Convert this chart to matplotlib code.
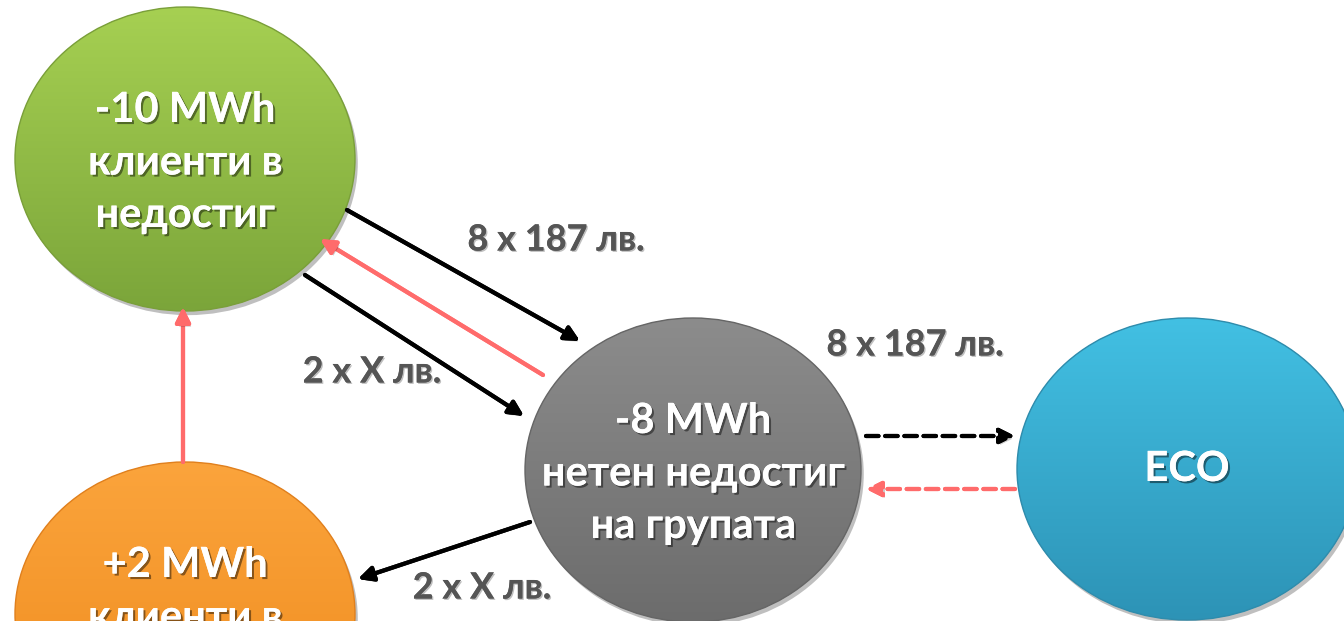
import matplotlib
matplotlib.use("Agg")
import matplotlib.pyplot as plt
import matplotlib.patheffects as pe
from matplotlib.patches import Ellipse
import numpy as np

plt.rcParams['font.family'] = ['Lato', 'DejaVu Sans']

# node texts (the orange node is cut off at the bottom edge, as in the original)
node_labels = ["-10 MWh\nклиенти в\nнедостиг",
               "+2 MWh\nклиенти в",
               "-8 MWh\nнетен недостиг\nна групата",
               "ECO"]
# edge price labels
edge_labels = ["8 x 187 лв.", "2 x X лв.", "8 x 187 лв.", "2 x X лв."]

# layout (pixels, y down)
centers = [(185, 159), (185, 614), (693, 470), (1187, 469)]
radii = [(170, 152), (170, 152), (168, 152), (170, 151)]
grad = [("#a6d052", "#7ba53a"), ("#fba43c", "#ee8a1c"),
        ("#8c8c8c", "#6c6c6c"), ("#42c0e3", "#2d93b6")]
edges_c = ["#7a9f3a", "#e0801e", "#666666", "#2f8cac"]

fig = plt.figure(figsize=(13.44, 6.21), dpi=100)
ax = fig.add_axes([0, 0, 1, 1])

shadow = [pe.withSimplePatchShadow(offset=(2, -3), shadow_rgbFace='black', alpha=0.25)]

for (cx, cy), (rx, ry), (c1, c2), ec in zip(centers, radii, grad, edges_c):
    base = Ellipse((cx, cy), 2 * rx, 2 * ry, facecolor=c2, edgecolor='none',
                   path_effects=shadow, zorder=1)
    ax.add_patch(base)
    t = np.linspace(0, 1, 256).reshape(-1, 1)
    a = np.array(matplotlib.colors.to_rgb(c1))
    b = np.array(matplotlib.colors.to_rgb(c2))
    img = a + (b - a) * t[..., None] * np.ones((1, 2, 1))
    im = ax.imshow(img, extent=(cx - rx, cx + rx, cy + ry, cy - ry),
                   aspect='auto', zorder=2, interpolation='bilinear')
    clip = Ellipse((cx, cy), 2 * rx, 2 * ry, transform=ax.transData)
    im.set_clip_path(clip)
    ax.add_patch(Ellipse((cx, cy), 2 * rx, 2 * ry, facecolor='none',
                         edgecolor=ec, lw=1.0, zorder=3))

ax.set_xlim(0, 1344)
ax.set_ylim(621, 0)
ax.axis('off')

txt_fx = [pe.withSimplePatchShadow(offset=(1.5, -1.5), shadow_rgbFace='black', alpha=0.45),
          pe.Normal()]
for (cx, cy), lab in zip(centers, node_labels):
    lines = lab.split("\n")
    for i, line in enumerate(lines):
        yy = cy - 49 + i * 52.5 if len(lines) > 1 else cy
        ax.text(cx, yy, line, ha='center', va='center', color='white',
                fontsize=30, fontweight='bold', zorder=5, path_effects=txt_fx)

# arrows: (start, end, color, dashed)
arrows = [((347, 210), (580, 341), 'black', False),
          ((543, 375), (320, 239), '#ff6b6b', False),
          ((305, 275), (524, 416), 'black', False),
          ((530, 522), (358, 579), 'black', False),
          ((183, 462), (183, 307), '#ff6b6b', False),
          ((866, 436), (1015, 436), 'black', True),
          ((1015, 489), (866, 489), '#ff6b6b', True)]
ash = [pe.withSimplePatchShadow(offset=(1.5, -2), shadow_rgbFace='black', alpha=0.2), pe.Normal()]
for s, e, col, dashed in arrows:
    ax.annotate("", xy=e, xytext=s,
                arrowprops=dict(arrowstyle='-|>', color=col, lw=3,
                                mutation_scale=22, shrinkA=0, shrinkB=0,
                                linestyle=(0, (3, 1.6)) if dashed else '-',
                                path_effects=ash),
                zorder=4)

label_pos = [(556, 240), (372, 372), (915, 345), (482, 588)]
lfx = [pe.withSimplePatchShadow(offset=(1, -1), shadow_rgbFace='black', alpha=0.25), pe.Normal()]
for (x, y), lab in zip(label_pos, edge_labels):
    ax.text(x, y, lab, ha='center', va='center', color='#555555',
            fontsize=26, fontweight='bold', zorder=5, path_effects=lfx)

fig.savefig("out.png", dpi=100)
